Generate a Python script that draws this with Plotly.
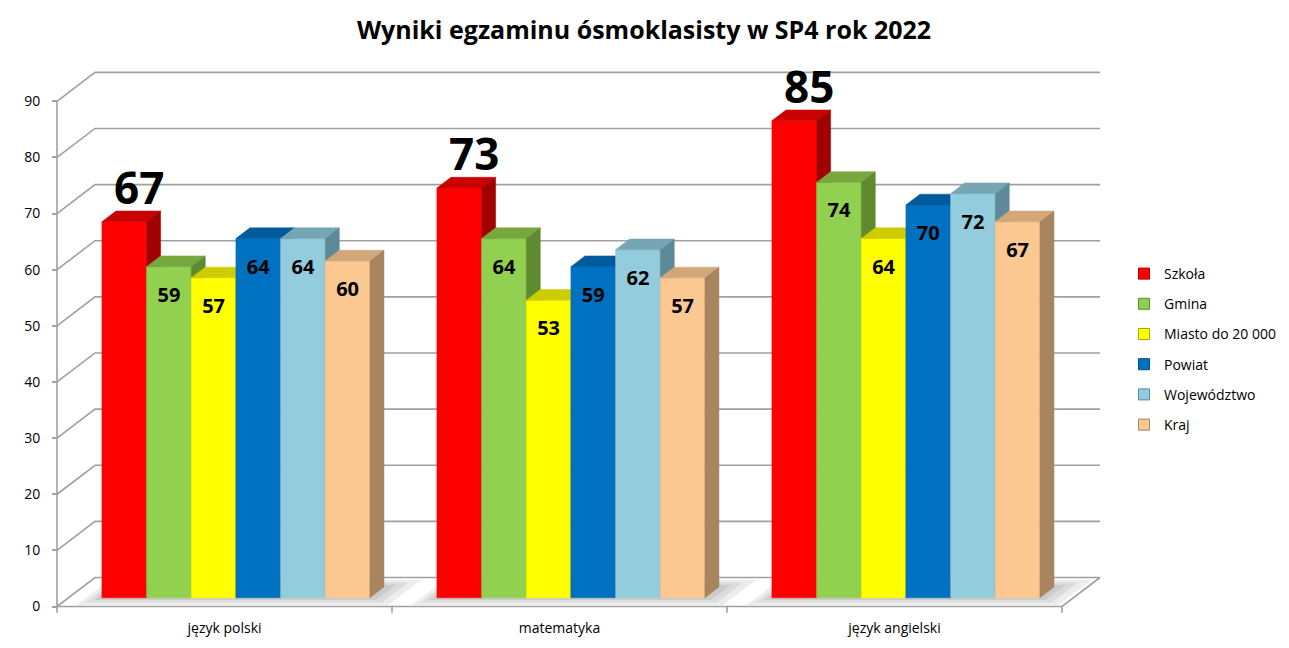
import plotly.graph_objects as go

# ---------------- data ----------------
categories = ["język polski", "matematyka", "język angielski"]
series_names = ["Szkoła", "Gmina", "Miasto do 20 000", "Powiat", "Województwo", "Kraj"]
szkola = [67, 73, 85]
gmina = [59, 64, 74]
miasto = [57, 53, 64]
powiat = [64, 59, 70]
wojewodztwo = [64, 62, 72]
kraj = [60, 57, 67]
series_values = [szkola, gmina, miasto, powiat, wojewodztwo, kraj]
y_ticks = [0, 10, 20, 30, 40, 50, 60, 70, 80, 90]
title_text = "Wyniki egzaminu ósmoklasisty w SP4 rok 2022"

# ---------------- styles ----------------
front_colors = ["#FF0000", "#92D050", "#FFFF00", "#0070C0", "#93CDDD", "#FCC892"]
top_colors = ["#C80000", "#76A83E", "#CCCC00", "#005A9C", "#76A6B3", "#D2A87A"]
side_colors = ["#A00000", "#5F8A30", "#A8A800", "#004A80", "#5C8A98", "#A8845F"]
grid_color = "#A0A0A0"
FONT = "Open Sans"

# ---------------- geometry (pixel scale of the layout) ----------------
W, H = 1289, 648
ML, MR, MT, MB = 47, 182, 50, 33
PXX = 335.0      # px per category
PXY = 5.613      # px per value unit
X0_PX = 57       # pixel position of x=0
Y0_PX = 606.5    # pixel position of y=0
plot_w = W - ML - MR
plot_h = H - MT - MB
xr0 = -(X0_PX - ML) / PXX
xr1 = xr0 + plot_w / PXX
yr0 = -((H - MB) - Y0_PX) / PXY
yr1 = yr0 + plot_h / PXY

DX = 38 / PXX    # full depth offset (x units)
DY = 29 / PXY    # full depth offset (y units)
F0, F1 = 0.30, 0.67
GAP = 0.2
n_s = len(series_names)
bw = (1 - GAP) / n_s
ddx, ddy = (F1 - F0) * DX, (F1 - F0) * DY
n_c = len(categories)

fig = go.Figure()

# ---------------- walls / gridlines ----------------
gx, gy = [], []
for v in y_ticks:
    gx += [0, DX, n_c + DX, None]
    gy += [v, v + DY, v + DY, None]
fig.add_trace(go.Scatter(x=gx, y=gy, mode="lines", line=dict(color=grid_color, width=1.6),
                         hoverinfo="skip", showlegend=False))

# floor front edge, right edge, y-axis line, category ticks
ax, ay = [0, n_c, n_c + DX, None, 0, 0, None], [0, 0, DY, None, 0, max(y_ticks), None]
for c in range(n_c + 1):
    ax += [c, c, None]
    ay += [0, -1.1, None]
fig.add_trace(go.Scatter(x=ax, y=ay, mode="lines", line=dict(color=grid_color, width=1.6),
                         hoverinfo="skip", showlegend=False))

# ---------------- soft floor shadows ----------------
for c in range(n_c):
    gl = c + GAP / 2
    gr = c + 1 - GAP / 2
    for exl, exr, ef in [(16, 28, 0.25), (10, 18, 0.16), (5, 9, 0.08)]:
        fa = max(0.0, F0 - ef)
        fb = min(1.0, F1 + ef)
        xa, xb = gl - exl / PXX, gr + exr / PXX
        sx = [xa + fa * DX, xb + fa * DX, xb + fb * DX, xa + fb * DX, xa + fa * DX]
        sy = [fa * DY, fa * DY, fb * DY, fb * DY, fa * DY]
        fig.add_trace(go.Scatter(x=sx, y=sy, mode="lines", fill="toself",
                                 fillcolor="rgba(0,0,0,0.07)", line=dict(width=0),
                                 hoverinfo="skip", showlegend=False))

# ---------------- 3D bars ----------------
big_x, big_y, big_t = [], [], []
in_x, in_y, in_t = [], [], []
for s, vals in enumerate(series_values):
    fx, fy, tx, ty, sx, sy = [], [], [], [], [], []
    for c, v in enumerate(vals):
        xl = c + GAP / 2 + s * bw + F0 * DX
        xr = xl + bw
        yb = F0 * DY
        yt = v + F0 * DY
        fx += [xl, xr, xr, xl, xl, None]
        fy += [yb, yb, yt, yt, yb, None]
        tx += [xl, xr, xr + ddx, xl + ddx, xl, None]
        ty += [yt, yt, yt + ddy, yt + ddy, yt, None]
        sx += [xr, xr + ddx, xr + ddx, xr, xr, None]
        sy += [yb, yb + ddy, yt + ddy, yt, yb, None]
        if s == 0:
            big_x.append(xl + bw / 2 + 15 / PXX)
            big_y.append(yt + 29 / PXY)
            big_t.append(str(v))
        else:
            in_x.append(xl + bw / 2)
            in_y.append(yt - 30 / PXY)
            in_t.append(str(v))
    for xs, ys, col in [(fx, fy, front_colors[s]), (tx, ty, top_colors[s]), (sx, sy, side_colors[s])]:
        fig.add_trace(go.Scatter(x=xs, y=ys, mode="lines", fill="toself", fillcolor=col,
                                 line=dict(color=col, width=0.5), hoverinfo="skip",
                                 showlegend=False))

# ---------------- labels ----------------
fig.add_trace(go.Scatter(x=big_x, y=big_y, mode="text", text=big_t,
                         textfont=dict(family=FONT, size=44, color="black", weight="bold"),
                         textposition="middle center", hoverinfo="skip", showlegend=False,
                         cliponaxis=False))
fig.add_trace(go.Scatter(x=in_x, y=in_y, mode="text", text=in_t,
                         textfont=dict(family=FONT, size=20, color="black", weight="bold"),
                         textposition="middle center", hoverinfo="skip", showlegend=False,
                         cliponaxis=False))

# ---------------- legend ----------------
for s, name in enumerate(series_names):
    fig.add_trace(go.Scatter(x=[None], y=[None], mode="markers", name=name, legendgroup=name,
                             marker=dict(symbol="square", size=11, color=front_colors[s],
                                         line=dict(color=side_colors[s], width=1))))

fig.update_layout(
    width=W, height=H,
    margin=dict(l=ML, r=MR, t=MT, b=MB, autoexpand=False),
    paper_bgcolor="white", plot_bgcolor="white",
    title=dict(text="<b>" + title_text + "</b>", x=644 / W, xref="container", xanchor="center",
               y=1 - 30 / H, yref="container", yanchor="middle",
               font=dict(family=FONT, size=25, color="black")),
    xaxis=dict(range=[xr0, xr1], showgrid=False, zeroline=False, showline=False,
               tickmode="array", tickvals=[c + 0.5 for c in range(n_c)], ticktext=categories,
               ticks="", tickfont=dict(family=FONT, size=14, color="black"),
               anchor="free", position=(0 - yr0) / (yr1 - yr0), ticklabelstandoff=11,
               fixedrange=True),
    yaxis=dict(range=[yr0, yr1], showgrid=False, zeroline=False, showline=False,
               tickmode="array", tickvals=y_ticks, ticks="outside", ticklen=5,
               tickcolor=grid_color, tickwidth=1.6,
               tickfont=dict(family=FONT, size=14, color="black"),
               anchor="free", position=(0 - xr0) / (xr1 - xr0), ticklabelstandoff=9,
               fixedrange=True),
    legend=dict(xref="container", yref="container", x=1124 / W, y=1 - 258 / H,
                xanchor="left", yanchor="top", tracegroupgap=9,
                font=dict(family=FONT, size=14, color="black"), bgcolor="rgba(0,0,0,0)"),
    showlegend=True,
)

fig.write_html("out.html", config={"displayModeBar": False},
               post_script="document.body.style.margin='0';")
